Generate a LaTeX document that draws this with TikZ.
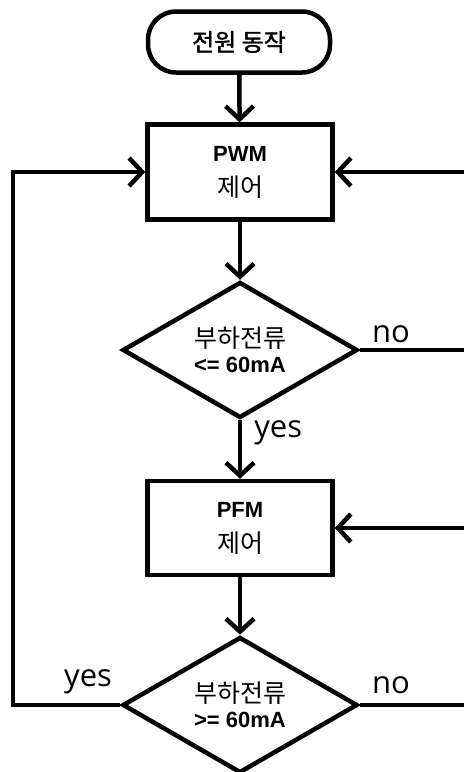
\documentclass[tikz,border=0pt]{standalone}
\usepackage{fontspec}
\setmainfont{Liberation Sans}
\newfontfamily\krfont{Noto Sans CJK KR}
\newfontfamily\krbold{Noto Sans CJK KR}[FakeBold=1.5]
\newfontfamily\lblfont{Open Sans}
\usetikzlibrary{arrows.meta,shapes.geometric}
\tikzset{
  every picture/.style={
    line width=4.5pt,
    >={Straight Barb[length=13pt,width=28pt]},   % open chevron tips
  },
  termbox/.style={draw, rectangle, rounded corners=28pt,
    minimum width=182pt, minimum height=61pt,
    font=\krbold\fontsize{24}{28}\selectfont},
  procbox/.style={draw, rectangle, align=center,
    minimum width=185pt, minimum height=95pt, inner sep=0pt,
    font=\fontsize{22}{35}\selectfont},
  askbox/.style={draw, diamond, aspect=1.7, align=center, inner sep=0pt,
    minimum width=235pt, minimum height=136pt,
    font=\fontsize{22}{25}\selectfont},
  lbl/.style={font=\lblfont\fontsize{31}{34}\selectfont, inner sep=0pt},
}
\newcommand{\tag}[1]{{\bfseries #1}}
\newcommand{\kr}[1]{{\krfont\fontsize{25}{28}\selectfont #1}}
\newcommand{\cond}[1]{{\bfseries #1}}

\begin{document}
\begin{tikzpicture}[x=1pt, y=-1pt]
    \useasboundingbox (0,0) rectangle (464,772);

    % Blocks
    \node[termbox] (start) at (239,42) {전원 동작};
    \node[procbox] (pwm) at (240,172) {\tag{PWM}\\\kr{제어}};
    \node[askbox] (ask1) at (240,350) {\kr{부하전류}\\\cond{<= 60mA}};
    \node[procbox, minimum height=94pt] (pfm) at (240,528) {\tag{PFM}\\\kr{제어}};
    \node[askbox] (ask2) at (240,705) {\kr{부하전류}\\\cond{>= 60mA}};

    % Free ends (picture is cut at the right)
    \coordinate (edge) at (464,0);
    \coordinate (back) at (13,705);
    \coordinate (no1end) at (ask1.east -| edge);
    \coordinate (no2end) at (ask2.east -| edge);
    \coordinate (pwmin) at (pwm.east -| edge);
    \coordinate (pfmin) at (pfm.east -| edge);

    % Main flow
    \draw[->] (start) -- (pwm);
    \draw[->] (pwm) -- (ask1);
    \draw[->] (ask1) -- node[lbl, pos=0.22, right=12pt] {yes} (pfm);
    \draw[->] (pfm) -- (ask2);

    % Branches
    \draw (ask1.east) -- node[lbl, pos=0.3, above=5pt] {no} (no1end);
    \draw (ask2.east) -- node[lbl, pos=0.3, above=9pt] {no} (no2end);
    \draw[->] (ask2.west) -- node[lbl, pos=0.3, above=9pt] {yes} (back) |- (pwm.west);
    \draw[->] (pwmin) -- (pwm.east);
    \draw[->] (pfmin) -- (pfm.east);
\end{tikzpicture}
\end{document}
